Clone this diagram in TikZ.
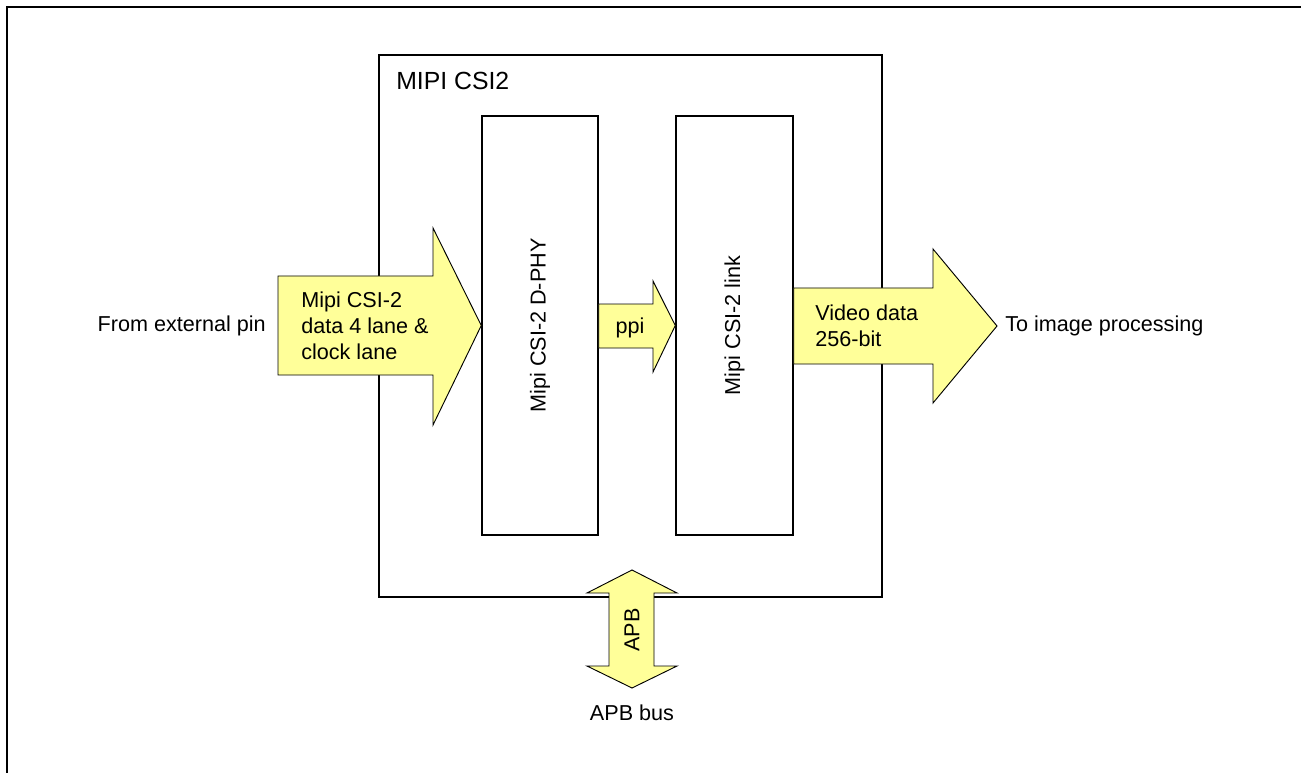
\documentclass[tikz,border=0pt]{standalone}
\usepackage{fontspec}
\setmainfont{Liberation Sans}
\definecolor{arrowyellow}{RGB}{255,255,153}
\begin{document}
\begin{tikzpicture}[x=0.75pt,y=-0.75pt,
  box/.style={draw, line width=1.1pt, inner sep=0pt},
  arr/.style={draw, line width=0.7pt, fill=arrowyellow, line join=miter},
  lbl/.style={font=\fontsize{16.2}{19.3}\selectfont, inner sep=0pt},
  biglbl/.style={font=\fontsize{18.6}{21}\selectfont, inner sep=0pt}]
\useasboundingbox (0,0) rectangle (1301,773);
% cropped outer frame
\coordinate (fbl) at (7,773);
\coordinate (ftl) at (7,7);
\coordinate (ftr) at (1301,7);
\draw[line width=2pt] (fbl) -- (ftl) -- (ftr);
% boxes
\node[box, minimum width=377.25pt, minimum height=406.5pt] (csi) at (630.5,326) {};
\node[box, minimum width=87pt, minimum height=314.25pt] (phy) at (540,325.5) {};
\node[box, minimum width=87.75pt, minimum height=314.25pt] (link) at (734.5,325.5) {};
\node[biglbl, anchor=base west] (csititle) at (396,90) {MIPI CSI2};
\node[lbl, rotate=90] (phylbl) at (phy.center) {Mipi CSI-2 D-PHY};
\node[lbl, rotate=90] (linklbl) at (link.center) {Mipi CSI-2 link};
% input arrow
\draw[arr] (278,276) -- (433,276) -- (433,228) -- (phy.west) -- (433,425) -- (433,375) -- (278,375) -- cycle;
\node[lbl, anchor=west, align=left] (inlbl) at (301,326) {Mipi CSI-2\\data 4 lane \&\\clock lane};
% ppi arrow
\draw[arr] (phy.east |- 0,304) -- (653,304) -- (653,281) -- (link.west) -- (653,372) -- (653,348) -- (phy.east |- 0,348) -- cycle;
\node[lbl, anchor=base] (ppilbl) at (630,333) {ppi};
% output arrow
\coordinate (outtip) at (997,326);
\draw[arr] (link.east |- 0,288) -- (933,288) -- (933,249) -- (outtip) -- (933,403) -- (933,364) -- (link.east |- 0,364) -- cycle;
\node[lbl, anchor=west, align=left] (outlbl) at (815,326) {Video data\\256-bit};
% APB arrow
\coordinate (apbtop) at (632,570);
\coordinate (apbbot) at (632,688);
\draw[arr] (apbtop) -- (677,593) -- (654,593) -- (654,666) -- (677,666) -- (apbbot) -- (587,666) -- (609,666) -- (609,593) -- (587,593) -- cycle;
\node[lbl, rotate=90] (apblbl) at (632,630) {APB};
% outside labels
\node[lbl, anchor=east] (ext) at (266,326) {From external pin};
\node[lbl, anchor=west] (img) at (1005,326) {To image processing};
\node[lbl, anchor=base] (apbbus) at (632,720) {APB bus};
\end{tikzpicture}
\end{document}
